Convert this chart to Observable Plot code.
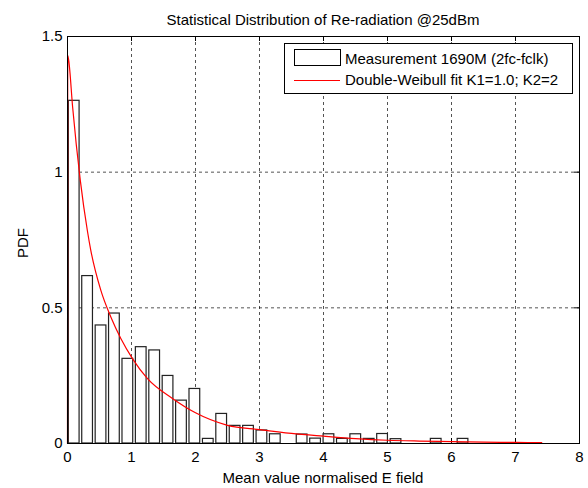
<!DOCTYPE html>
<html>
<head>
<meta charset="utf-8">
<script src="https://cdn.jsdelivr.net/npm/d3@7"></script>
<script src="https://cdn.jsdelivr.net/npm/@observablehq/plot@0.6"></script>
<style>
  html, body { margin: 0; padding: 0; background: #fff; }
  #wrap { position: relative; width: 588px; height: 488px; font-family: "Liberation Sans", Arial, sans-serif; color: #000; }
  .lbl { position: absolute; font-size: 15px; line-height: 15px; white-space: nowrap; }
  #legend { position: absolute; left: 284px; top: 43px; width: 287px; height: 49px; border: 1px solid #000; background: #fff; }
</style>
</head>
<body>
<div id="wrap"></div>
<script>
// ---- data ----
const title = "Statistical Distribution of Re-radiation @25dBm";
const xLabel = "Mean value normalised E field";
const yLabel = "PDF";
const seriesNames = ["Measurement 1690M (2fc-fclk)", "Double-Weibull fit K1=1.0; K2=2"];

const binCenters = [0.105, 0.314, 0.524, 0.733, 0.943, 1.152, 1.362, 1.571, 1.781, 1.990,
                    2.200, 2.409, 2.619, 2.828, 3.038, 3.247, 3.457, 3.666, 3.876, 4.085,
                    4.295, 4.504, 4.714, 4.923, 5.133, 5.342, 5.552, 5.761, 5.971, 6.180];
const binPdf = [1.263, 0.617, 0.435, 0.479, 0.312, 0.355, 0.343, 0.249, 0.158, 0.201,
                0.017, 0.109, 0.065, 0.065, 0.048, 0.034, 0, 0.033, 0.018, 0.034,
                0.017, 0.034, 0.017, 0.035, 0.016, 0, 0, 0.017, 0, 0.017];

const fitX = [0, 0.004, 0.02, 0.08, 0.2, 0.31, 0.364, 0.52, 0.677, 0.833, 1.015, 1.25, 1.64,
              2.0, 2.5, 3.0, 3.5, 4.0, 4.5, 5.0, 5.5, 6.0, 6.5, 7.0, 7.41];
const fitY = [0, 1.43, 1.41, 1.24, 0.97, 0.785, 0.712, 0.565, 0.466, 0.387, 0.313, 0.239, 0.166,
              0.113, 0.067, 0.051, 0.037, 0.027, 0.018, 0.012, 0.009, 0.007, 0.005, 0.004, 0.003];

const xTicks = [0, 1, 2, 3, 4, 5, 6, 7, 8];
const yTicks = [0, 0.5, 1, 1.5];
const yTickLabels = ["0", "0.5", "1", "1.5"];

// ---- build ----
const bars = binCenters.map((c, i) => ({c, v: binPdf[i]})).filter(d => d.v > 0);
const fit = fitX.map((x, i) => ({x, y: fitY[i]}));
const halfBar = 0.2095 * 0.8 / 2;
const tkY = 1.5 * 5 / 407;   // 5px inward tick in y units
const tkX = 8 * 5 / 512;     // 5px inward tick in x units

const chart = Plot.plot({
  width: 588,
  height: 488,
  marginLeft: 67,
  marginRight: 9,
  marginTop: 36,
  marginBottom: 45,
  style: {fontFamily: "Liberation Sans, Arial, sans-serif", fontSize: "15px", color: "#000", background: "#fff"},
  x: {domain: [0, 8]},
  y: {domain: [0, 1.5]},
  marks: [
    Plot.gridX(xTicks, {stroke: "#000", strokeOpacity: 0.85, strokeWidth: 0.8, strokeDasharray: "3,3"}),
    Plot.gridY(yTicks, {stroke: "#000", strokeOpacity: 0.85, strokeWidth: 0.8, strokeDasharray: "3,3"}),
    Plot.ruleX(xTicks, {y1: 0, y2: tkY, stroke: "#000", strokeWidth: 1}),
    Plot.ruleX(xTicks, {y1: 1.5 - tkY, y2: 1.5, stroke: "#000", strokeWidth: 1}),
    Plot.ruleY(yTicks, {x1: 0, x2: tkX, stroke: "#000", strokeWidth: 1}),
    Plot.ruleY(yTicks, {x1: 8 - tkX, x2: 8, stroke: "#000", strokeWidth: 1}),
    Plot.rectY(bars, {x1: d => d.c - halfBar, x2: d => d.c + halfBar, y1: 0, y2: "v", fill: "#fff", stroke: "#222", strokeWidth: 1.2}),
    Plot.line(fit, {x: "x", y: "y", stroke: "#ff0000", strokeWidth: 1.2, curve: "monotone-x"}),
    Plot.frame({stroke: "#000", strokeWidth: 1}),
    Plot.axisX({ticks: xTicks, tickSize: 0, tickPadding: 8, label: null, tickFormat: d => String(d)}),
    Plot.axisY({ticks: yTicks, tickSize: 0, tickPadding: 5, label: null, tickFormat: (d, i) => yTickLabels[i]})
  ]
});

const wrap = document.getElementById("wrap");
wrap.appendChild(chart);

function addLabel(text, css) {
  const d = document.createElement("div");
  d.className = "lbl";
  d.textContent = text;
  Object.assign(d.style, css);
  wrap.appendChild(d);
  return d;
}
// title (centered over plot area)
addLabel(title, {left: "67px", width: "512px", textAlign: "center", top: "12px"});
// x label
addLabel(xLabel, {left: "67px", width: "512px", textAlign: "center", top: "470px"});
// y label (rotated)
addLabel(yLabel, {left: "22px", top: "243px", transform: "translate(-50%, -50%) rotate(-90deg)"});

// legend
const lg = document.createElement("div");
lg.id = "legend";
lg.innerHTML = `
  <svg width="287" height="49" style="position:absolute;left:0;top:0">
    <rect x="9.5" y="5.5" width="46" height="16" fill="#fff" stroke="#000" stroke-width="1"></rect>
    <line x1="9" x2="55" y1="36.5" y2="36.5" stroke="#ff0000" stroke-width="1.2"></line>
  </svg>`;
wrap.appendChild(lg);
const l1 = document.createElement("div");
l1.className = "lbl"; l1.textContent = seriesNames[0];
Object.assign(l1.style, {left: "60px", top: "7px"});
lg.appendChild(l1);
const l2 = document.createElement("div");
l2.className = "lbl"; l2.textContent = seriesNames[1];
Object.assign(l2.style, {left: "60px", top: "28px"});
lg.appendChild(l2);
</script>
</body>
</html>
